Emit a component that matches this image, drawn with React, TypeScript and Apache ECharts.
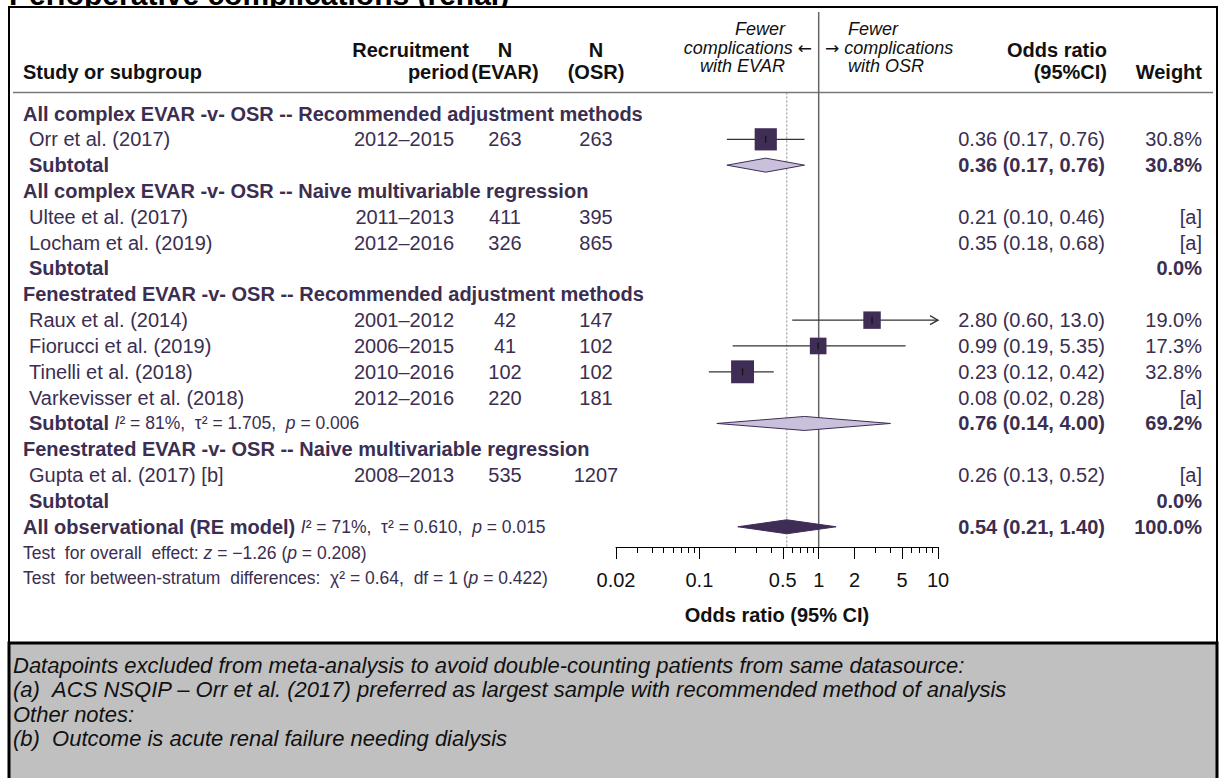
import React, { useEffect, useRef } from "react";
import * as echarts from "echarts";

// ---------------- data ----------------
const titleText = "Perioperative complications (renal)";
const groupNames = [
  "All complex EVAR -v- OSR -- Recommended adjustment methods",
  "All complex EVAR -v- OSR -- Naive multivariable regression",
  "Fenestrated EVAR -v- OSR -- Recommended adjustment methods",
  "Fenestrated EVAR -v- OSR -- Naive multivariable regression",
];
const studyNames = [
  "Orr et al. (2017)",
  "Ultee et al. (2017)",
  "Locham et al. (2019)",
  "Raux et al. (2014)",
  "Fiorucci et al. (2019)",
  "Tinelli et al. (2018)",
  "Varkevisser et al. (2018)",
  "Gupta et al. (2017) [b]",
];
const studyGroup = [0, 1, 1, 2, 2, 2, 2, 3];
const studyPeriods = ["2012–2015", "2011–2013", "2012–2016", "2001–2012", "2006–2015", "2010–2016", "2012–2016", "2008–2013"];
const studyNEvar = [263, 411, 326, 42, 41, 102, 220, 535];
const studyNOsr = [263, 395, 865, 147, 102, 102, 181, 1207];
const studyOR = [0.36, 0.21, 0.35, 2.8, 0.99, 0.23, 0.08, 0.26];
const studyLo = [0.17, 0.1, 0.18, 0.6, 0.19, 0.12, 0.02, 0.13];
const studyHi = [0.76, 0.46, 0.68, 13.0, 5.35, 0.42, 0.28, 0.52];
const studyWeight: (number | null)[] = [30.8, null, null, 19.0, 17.3, 32.8, null, null];

const subOR: (number | null)[] = [0.36, null, 0.76, null];
const subLo: (number | null)[] = [0.17, null, 0.14, null];
const subHi: (number | null)[] = [0.76, null, 4.0, null];
const subWeight = [30.8, 0.0, 69.2, 0.0];
const subI2: (string | null)[] = [null, null, "81%", null];
const subTau2: (string | null)[] = [null, null, "1.705", null];
const subP: (string | null)[] = [null, null, "0.006", null];

const overallOR = 0.54;
const overallLo = 0.21;
const overallHi = 1.4;
const overallWeight = 100.0;
const overallI2 = "71%";
const overallTau2 = "0.610";
const overallP = "0.015";
const testZ = "−1.26";
const testZP = "0.208";
const testChi2 = "0.64";
const testDf = "1";
const testChiP = "0.422";

const majorTicks = [0.02, 0.1, 0.5, 1, 2, 5, 10];
const majorLabels = ["0.02", "0.1", "0.5", "1", "2", "5", "10"];
const minorTicks = [0.03, 0.04, 0.05, 0.06, 0.07, 0.08, 0.09, 0.2, 0.3, 0.4, 0.6, 0.7, 0.8, 0.9, 3, 4, 6, 7, 8, 9];

const footnotes = [
  "Datapoints excluded from meta-analysis to avoid double-counting patients from same datasource:",
  "(a)\u00a0\u00a0ACS NSQIP – Orr et al. (2017) preferred as largest sample with recommended method of analysis",
  "Other notes:",
  "(b)\u00a0\u00a0Outcome is acute renal failure needing dialysis",
];

// ---------------- layout constants ----------------
const W = 1221;
const H = 778;
const FONT = "'Liberation Sans', Arial, Helvetica, sans-serif";
const ARROW_FONT = "'DejaVu Sans', 'Liberation Sans', sans-serif";
const PURPLE = "#3b2e50";
const SQUARE = "#3f2d56";
const LIGHT = "#c9c0dc";
const BLACK = "#111111";
const FS = 20; // row font size
const FS_STAT = 17.5;

const ROW0_Y = 113.5;
const ROW_H = 25.83;
const GRID_TOP = 12;
const AXIS_Y = 547;
const Y_MIN = (GRID_TOP - ROW0_Y) / ROW_H;
const Y_MAX = (AXIS_Y - ROW0_Y) / ROW_H;
const HEADER_ROW = (92.5 - ROW0_Y) / ROW_H;
const X_MIN = Math.log10(majorTicks[0]);
const X_MAX = Math.log10(majorTicks[majorTicks.length - 1]);

const COL_GROUP = 23;
const COL_STUDY = 29;
const COL_PERIOD = 454;
const COL_NEVAR = 505;
const COL_NOSR = 596;
const COL_OR = 1105;
const COL_WEIGHT = 1202;

// ---------------- row layout ----------------
type Row = { kind: "group" | "study" | "sub" | "overall" | "test"; idx: number };
const rows: Row[] = [];
groupNames.forEach((_, gi) => {
  rows.push({ kind: "group", idx: gi });
  studyGroup.forEach((sg, si) => {
    if (sg === gi) rows.push({ kind: "study", idx: si });
  });
  rows.push({ kind: "sub", idx: gi });
});
rows.push({ kind: "overall", idx: 0 });
rows.push({ kind: "test", idx: 0 });
rows.push({ kind: "test", idx: 1 });
const rowOfStudy = (si: number) => rows.findIndex((r) => r.kind === "study" && r.idx === si);
const rowOfSub = (gi: number) => rows.findIndex((r) => r.kind === "sub" && r.idx === gi);
const rowOfOverall = rows.findIndex((r) => r.kind === "overall");

const fmt = (v: number) => (v >= 10 ? v.toFixed(1) : v.toFixed(2));
const fmtCI = (o: number, l: number, h: number) => `${fmt(o)} (${fmt(l)}, ${fmt(h)})`;

function txt(x: number, y: number, text: string, o: any = {}) {
  return {
    type: "text",
    x,
    y,
    silent: true,
    style: {
      text,
      fill: o.fill || PURPLE,
      fontSize: o.size || FS,
      fontFamily: FONT,
      fontWeight: o.bold ? "bold" : "normal",
      fontStyle: o.italic ? "italic" : "normal",
      align: o.align || "left",
      verticalAlign: "middle",
      rich: o.rich,
    },
  };
}

const statRich = (size: number) => ({
  b: { fontSize: FS, fontWeight: "bold", fontFamily: FONT, fill: PURPLE },
  r: { fontSize: size, fontFamily: FONT, fill: PURPLE },
  i: { fontSize: size, fontStyle: "italic", fontFamily: FONT, fill: PURPLE },
});

function renderTableRow(params: any, api: any) {
  const r = rows[params.dataIndex];
  const y = api.coord([X_MIN, api.value(1)])[1];
  const ch: any[] = [];
  if (r.kind === "group") {
    ch.push(txt(COL_GROUP, y, groupNames[r.idx], { bold: true }));
  } else if (r.kind === "study") {
    const i = r.idx;
    ch.push(txt(COL_STUDY, y, studyNames[i]));
    ch.push(txt(COL_PERIOD, y, studyPeriods[i], { align: "right" }));
    ch.push(txt(COL_NEVAR, y, String(studyNEvar[i]), { align: "center" }));
    ch.push(txt(COL_NOSR, y, String(studyNOsr[i]), { align: "center" }));
    ch.push(txt(COL_OR, y, fmtCI(studyOR[i], studyLo[i], studyHi[i]), { align: "right" }));
    const w = studyWeight[i];
    ch.push(txt(COL_WEIGHT, y, w == null ? "[a]" : w.toFixed(1) + "%", { align: "right" }));
  } else if (r.kind === "sub") {
    const g = r.idx;
    if (subI2[g]) {
      ch.push(
        txt(COL_STUDY, y, `{b|Subtotal} {i|I}{r|² = ${subI2[g]},  τ² = ${subTau2[g]},  }{i|p}{r| = ${subP[g]}}`, {
          rich: statRich(FS_STAT),
        })
      );
    } else {
      ch.push(txt(COL_STUDY, y, "Subtotal", { bold: true }));
    }
    const o = subOR[g];
    if (o != null) ch.push(txt(COL_OR, y, fmtCI(o, subLo[g] as number, subHi[g] as number), { align: "right", bold: true }));
    ch.push(txt(COL_WEIGHT, y, subWeight[g].toFixed(1) + "%", { align: "right", bold: true }));
  } else if (r.kind === "overall") {
    ch.push(
      txt(COL_GROUP, y, `{b|All observational (RE model)} {i|I}{r|² = ${overallI2},  τ² = ${overallTau2},  }{i|p}{r| = ${overallP}}`, {
        rich: statRich(FS_STAT),
      })
    );
    ch.push(txt(COL_OR, y, fmtCI(overallOR, overallLo, overallHi), { align: "right", bold: true }));
    ch.push(txt(COL_WEIGHT, y, overallWeight.toFixed(1) + "%", { align: "right", bold: true }));
  } else if (r.kind === "test") {
    const text =
      r.idx === 0
        ? `{r|Test  for overall  effect: }{i|z}{r| = ${testZ} (}{i|p}{r| = ${testZP})}`
        : `{r|Test  for between-stratum  differences:  χ² = ${testChi2},  df = ${testDf} (}{i|p}{r| = ${testChiP})}`;
    ch.push(txt(COL_GROUP, y, text, { rich: statRich(FS_STAT) }));
  }
  return { type: "group", children: ch };
}

function renderStudy(params: any, api: any) {
  const row = api.value(1);
  const c = api.coord([api.value(0), row]);
  const l = api.coord([api.value(2), row]);
  const h = api.coord([api.value(3), row]);
  const s = 4 * Math.sqrt(api.value(4));
  const ch: any[] = [
    { type: "line", shape: { x1: l[0], y1: c[1], x2: h[0], y2: c[1] }, style: { stroke: "#333", lineWidth: 1.3 } },
    { type: "rect", shape: { x: c[0] - s / 2, y: c[1] - s / 2, width: s, height: s }, style: { fill: SQUARE } },
    { type: "line", shape: { x1: c[0], y1: c[1] - 3.5, x2: c[0], y2: c[1] + 3.5 }, style: { stroke: "#111", lineWidth: 1.2 } },
  ];
  if (api.value(5)) {
    ch.push({
      type: "polyline",
      shape: { points: [[h[0] - 8, c[1] - 4.5], [h[0], c[1]], [h[0] - 8, c[1] + 4.5]] },
      style: { stroke: "#333", fill: "none", lineWidth: 1.3 },
    });
  }
  return { type: "group", children: ch };
}

function renderDiamond(params: any, api: any) {
  const row = api.value(1);
  const c = api.coord([api.value(0), row]);
  const l = api.coord([api.value(2), row]);
  const h = api.coord([api.value(3), row]);
  const dark = api.value(4) === 1;
  const hh = 7;
  return {
    type: "polygon",
    shape: { points: [[l[0], c[1]], [c[0], c[1] - hh], [h[0], c[1]], [c[0], c[1] + hh]] },
    style: { fill: dark ? SQUARE : LIGHT, stroke: SQUARE, lineWidth: 1 },
  };
}

function renderRefLine(params: any, api: any) {
  const x = api.value(0);
  const a = api.coord([x, api.value(1)]);
  const b = api.coord([x, api.value(2)]);
  const dotted = api.value(3) === 1;
  return {
    type: "line",
    shape: { x1: a[0], y1: a[1], x2: b[0], y2: b[1] },
    style: dotted ? { stroke: "#8a8a8a", lineWidth: 1, lineDash: [2, 2] } : { stroke: "#666", lineWidth: 1.5 },
  };
}

// series data
const tableData = rows.map((_, i) => [X_MIN, i]);
const studyData: number[][] = [];
studyNames.forEach((_, i) => {
  const w = studyWeight[i];
  if (w == null) return;
  const hi = Math.min(studyHi[i], majorTicks[majorTicks.length - 1]);
  studyData.push([Math.log10(studyOR[i]), rowOfStudy(i), Math.log10(studyLo[i]), Math.log10(hi), w, studyHi[i] > hi ? 1 : 0]);
});
const diamondData: number[][] = [];
groupNames.forEach((_, g) => {
  const o = subOR[g];
  if (o == null) return;
  diamondData.push([Math.log10(o), rowOfSub(g), Math.log10(subLo[g] as number), Math.log10(subHi[g] as number), 0]);
});
diamondData.push([Math.log10(overallOR), rowOfOverall, Math.log10(overallLo), Math.log10(overallHi), 1]);
const refData = [
  [0, Y_MIN, Y_MAX, 0],
  [Math.log10(overallOR), HEADER_ROW, Y_MAX, 1],
];

const majorLog = majorTicks.map((v) => Math.log10(v));
const minorLog = minorTicks.map((v) => Math.log10(v));

function headerGraphics() {
  const g: any[] = [];
  const hdr = (x: number, y: number, text: string, align: string, o: any = {}) =>
    g.push({
      type: "text",
      x,
      y,
      silent: true,
      style: {
        text,
        fill: BLACK,
        fontSize: o.size || FS,
        fontFamily: FONT,
        fontWeight: o.italic ? "normal" : "bold",
        fontStyle: o.italic ? "italic" : "normal",
        align,
        verticalAlign: "middle",
        rich: o.rich,
      },
    });
  // title (cut by the top edge, partly hidden behind the frame)
  g.push({
    type: "text",
    x: 9,
    y: -5.5,
    silent: true,
    z: -20,
    style: { text: titleText, fill: "#000", fontSize: 30, fontWeight: "bold", fontFamily: FONT, align: "left", verticalAlign: "middle" },
  });
  // frame
  g.push({ type: "rect", shape: { x: 9, y: 7, width: 1208, height: 636 }, style: { fill: "#ffffff", stroke: "#000", lineWidth: 2 }, z: -10 });
  g.push({ type: "rect", shape: { x: 9, y: 643, width: 1208, height: 160 }, style: { fill: "#c0c0c0", stroke: "#000", lineWidth: 3 }, z: -9 });
  hdr(COL_GROUP, 72, "Study or subgroup", "left");
  hdr(469, 50, "Recruitment", "right");
  hdr(469, 72, "period", "right");
  hdr(COL_NEVAR, 50, "N", "center");
  hdr(COL_NEVAR, 72, "(EVAR)", "center");
  hdr(COL_NOSR, 50, "N", "center");
  hdr(COL_NOSR, 72, "(OSR)", "center");
  const it = { italic: true, size: 18 };
  const arrowRich = {
    t: { fontSize: 18, fontStyle: "italic", fontFamily: FONT, fill: BLACK },
    a: { fontSize: 17, fontFamily: ARROW_FONT, fill: BLACK },
  };
  hdr(785, 29, "Fewer", "right", it);
  hdr(812, 48, "{t|complications }{a|←}", "right", { ...it, rich: arrowRich });
  hdr(785, 66, "with EVAR", "right", it);
  hdr(848, 29, "Fewer", "left", it);
  hdr(825, 48, "{a|→}{t| complications}", "left", { ...it, rich: arrowRich });
  hdr(848, 66, "with OSR", "left", it);
  hdr(1107, 50, "Odds ratio", "right");
  hdr(1107, 72, "(95%CI)", "right");
  hdr(COL_WEIGHT, 72, "Weight", "right");
  g.push({ type: "line", shape: { x1: 13, y1: 92.5, x2: 1213, y2: 92.5 }, style: { stroke: "#777", lineWidth: 1.5 } });
  footnotes.forEach((f, i) => {
    g.push({
      type: "text",
      x: 13,
      y: 665 + i * 24.5,
      silent: true,
      style: { text: f, fill: BLACK, fontSize: 22, fontStyle: "italic", fontFamily: FONT, align: "left", verticalAlign: "middle" },
    });
  });
  return g;
}

export default function App() {
  const ref = useRef<HTMLDivElement>(null);
  useEffect(() => {
    if (!ref.current) return;
    const chart = echarts.init(ref.current, undefined, { renderer: "svg" });
    const labelFor = (v: number) => {
      const k = majorLog.findIndex((m) => Math.abs(m - v) < 1e-6);
      return k >= 0 ? majorLabels[k] : "";
    };
    chart.setOption({
      animation: false,
      backgroundColor: "#ffffff",
      graphic: { elements: headerGraphics() },
      grid: { left: 616, right: W - 938, top: GRID_TOP, bottom: H - AXIS_Y, containLabel: false },
      xAxis: [
        {
          type: "value",
          min: X_MIN,
          max: X_MAX,
          position: "bottom",
          axisLine: { show: true, onZero: false, lineStyle: { color: "#000", width: 1 } },
          axisTick: { show: true, customValues: majorLog, length: 12, lineStyle: { color: "#000", width: 1 } },
          axisLabel: {
            show: true,
            customValues: majorLog,
            formatter: labelFor,
            margin: 23,
            fontSize: 20,
            color: BLACK,
            fontFamily: FONT,
          },
          splitLine: { show: false },
          name: "Odds ratio (95% CI)",
          nameLocation: "middle",
          nameGap: 58,
          nameTextStyle: { fontSize: 20, fontWeight: "bold", color: BLACK, fontFamily: FONT },
        },
        {
          type: "value",
          min: X_MIN,
          max: X_MAX,
          position: "bottom",
          axisLine: { show: false, onZero: false },
          axisTick: { show: true, customValues: minorLog, length: 6, lineStyle: { color: "#000", width: 1 } },
          axisLabel: { show: false },
          splitLine: { show: false },
        },
      ],
      yAxis: { type: "value", min: Y_MIN, max: Y_MAX, inverse: true, show: false },
      series: [
        { type: "custom", name: "refs", renderItem: renderRefLine, data: refData, xAxisIndex: 0, z: 1, silent: true },
        { type: "custom", name: "table", renderItem: renderTableRow, data: tableData, xAxisIndex: 0, z: 3, silent: true },
        { type: "custom", name: "studies", renderItem: renderStudy, data: studyData, xAxisIndex: 0, z: 4, silent: true },
        { type: "custom", name: "pooled", renderItem: renderDiamond, data: diamondData, xAxisIndex: 0, z: 4, silent: true },
      ],
    });
    return () => chart.dispose();
  }, []);
  return <div ref={ref} style={{ position: "fixed", left: 0, top: 0, width: W, height: H }} />;
}
